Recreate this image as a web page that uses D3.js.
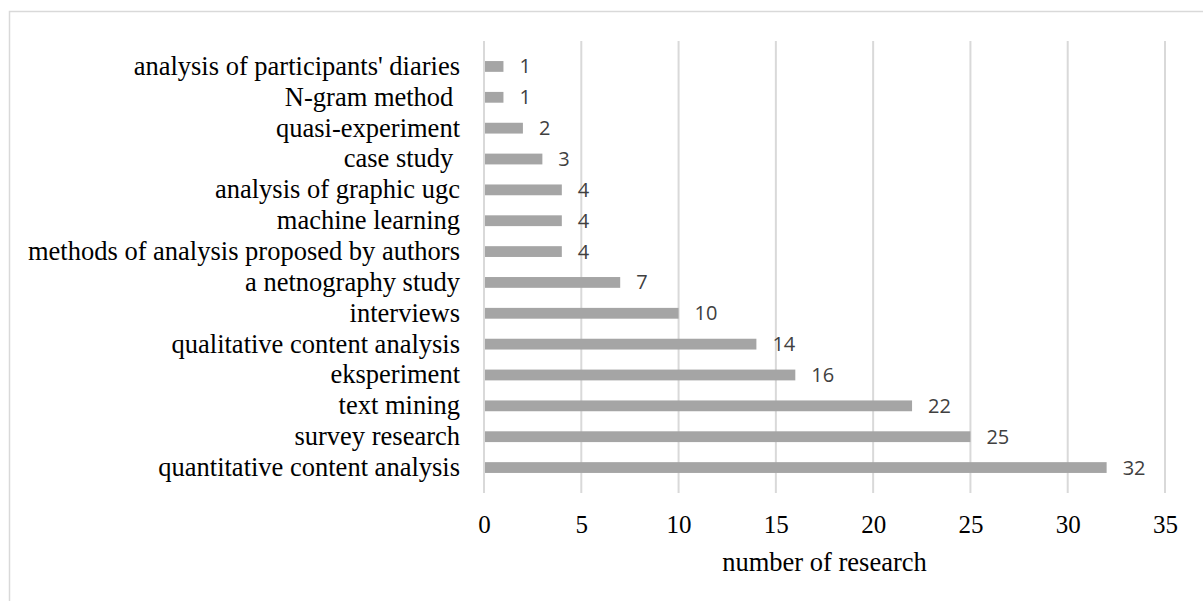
<!DOCTYPE html>
<html lang="en">
<head>
    <meta charset="UTF-8">
    <title>Research methods bar chart</title>
    <script src="https://d3js.org/d3.v7.min.js"></script>
    <style>
        body { margin: 0; padding: 0; background: #fff; }
        svg { display: block; }
        .cat text { font-family: "Liberation Serif", "Times New Roman", serif; font-size: 26.5px; fill: #000; white-space: pre; }
        .tick-x text { font-family: "Liberation Serif", "Times New Roman", serif; font-size: 25px; fill: #000; }
        .val { font-family: "Open Sans", "Noto Sans", sans-serif; font-size: 20px; fill: #404040; }
        .title { font-family: "Liberation Serif", "Times New Roman", serif; font-size: 26.5px; fill: #000; }
    </style>
</head>
<body>
<div id="chart"></div>
<script>
    // categories, top to bottom
    const categories = [
        "analysis of participants' diaries",
        "N-gram method ",
        "quasi-experiment",
        "case study ",
        "analysis of graphic ugc",
        "machine learning",
        "methods of analysis proposed by authors",
        "a netnography study",
        "interviews",
        "qualitative content analysis",
        "eksperiment",
        "text mining",
        "survey research",
        "quantitative content analysis"
    ];
    const values = [1, 1, 2, 3, 4, 4, 4, 7, 10, 14, 16, 22, 25, 32];
    const xTicks = [0, 5, 10, 15, 20, 25, 30, 35];

    const W = 1203, H = 601;
    const plot = {left: 484, right: 1165, top: 41, bottom: 493};

    const svg = d3.select("#chart").append("svg")
        .attr("width", W).attr("height", H);

    // outer frame
    svg.append("rect")
        .attr("x", 9.5).attr("y", 11.5)
        .attr("width", W).attr("height", H)
        .attr("fill", "none").attr("stroke", "#d9d9d9").attr("stroke-width", 1.5);

    const x = d3.scaleLinear().domain([0, 35]).range([plot.left, plot.right]);
    const y = d3.scaleBand().domain(categories).range([plot.top, plot.bottom]).padding(0.65);

    // gridlines
    svg.append("g").selectAll("line").data(xTicks).join("line")
        .attr("x1", d => x(d)).attr("x2", d => x(d))
        .attr("y1", plot.top).attr("y2", plot.bottom)
        .attr("stroke", "#d9d9d9").attr("stroke-width", 2);

    // x tick labels
    const xAxis = svg.append("g")
        .attr("class", "tick-x")
        .attr("transform", `translate(0,${plot.bottom})`)
        .call(d3.axisBottom(x).tickValues(xTicks).tickSize(0).tickPadding(22));
    xAxis.select(".domain").remove();
    xAxis.selectAll("text").attr("font-size", null).attr("font-family", null);

    // category labels
    const yAxis = svg.append("g")
        .attr("class", "cat")
        .attr("transform", `translate(${plot.left},0)`)
        .call(d3.axisLeft(y).tickSize(0).tickPadding(24));
    yAxis.select(".domain").remove();
    yAxis.selectAll("text").attr("font-size", null).attr("font-family", null)
        .attr("xml:space", "preserve");

    // bars
    svg.append("g").selectAll("rect").data(categories).join("rect")
        .attr("x", x(0) + 1)
        .attr("y", d => y(d))
        .attr("width", (d, i) => x(values[i]) - x(0) - 1)
        .attr("height", y.bandwidth())
        .attr("fill", "#a5a5a5");

    // value labels
    svg.append("g").selectAll("text").data(categories).join("text")
        .attr("class", "val")
        .attr("x", (d, i) => x(values[i]) + 16)
        .attr("y", d => y(d) + y.bandwidth() / 2)
        .attr("dy", "0.35em")
        .text((d, i) => values[i]);

    // axis title
    svg.append("text")
        .attr("class", "title")
        .attr("x", (plot.left + plot.right) / 2)
        .attr("y", 571)
        .attr("text-anchor", "middle")
        .text("number of research");
</script>
</body>
</html>
